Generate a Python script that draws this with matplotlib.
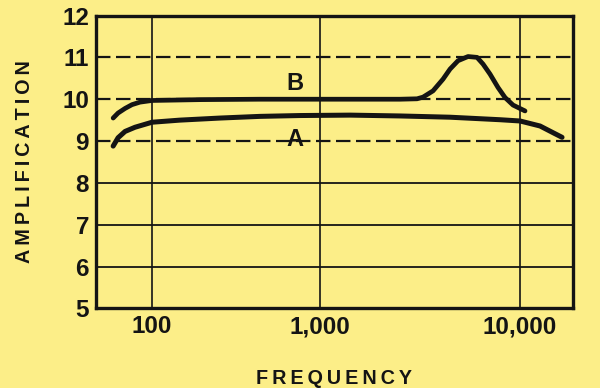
import matplotlib
matplotlib.use('Agg')
import matplotlib.pyplot as plt
import numpy as np
from matplotlib.ticker import FixedLocator, NullLocator

plt.rcParams['font.family'] = ['Liberation Sans', 'DejaVu Sans']

# curve A
freq_a = [58.7, 62.8, 69.1, 79.2, 100, 146, 254, 439, 760, 1413, 2512, 4467, 7943, 10000, 12590, 14620, 16220]
amp_a = [8.88, 9.08, 9.23, 9.33, 9.45, 9.5, 9.55, 9.59, 9.61, 9.62, 9.6, 9.57, 9.51, 9.48, 9.36, 9.2, 9.09]
# curve B
freq_b = [58.7, 62.8, 69.1, 76.0, 84.8, 100, 193, 439, 1413, 2512, 3055, 3273, 3673, 4121, 4467, 4898,
          5495, 6095, 6531, 7079, 7762, 8414, 9226, 10590]
amp_b = [9.55, 9.67, 9.78, 9.87, 9.93, 9.97, 9.99, 10.0, 10.0, 10.0, 10.01, 10.05, 10.2, 10.48, 10.72, 10.92,
         11.02, 11.0, 10.84, 10.6, 10.28, 10.04, 9.86, 9.72]

y_ticks = [5, 6, 7, 8, 9, 10, 11, 12]
x_ticks = [100, 1000, 10000]
x_labels = ['100', '1,000', '10,000']
solid_rows = [6, 7, 8]
dashed_rows = [9, 10, 11]

bg = '#fcee88'
ink = '#141414'


# hand drawn paper: the two decades are not the same width
def fwd(f):
    u = np.log10(np.clip(f, 1e-3, None))
    return np.where(u <= 3, (u - 2) * 168, 168 + (u - 3) * 200)


def inv(p):
    p = np.asarray(p, dtype=float)
    u = np.where(p <= 168, 2 + p / 168, 3 + (p - 168) / 200)
    return 10 ** u


fig = plt.figure(figsize=(6, 3.88), dpi=100, facecolor=bg)
ax = fig.add_axes([0.16, 0.205, 0.795, 0.755], facecolor=bg)

ax.set_xscale('function', functions=(fwd, inv))
ax.set_xlim(46.4, 18400)
ax.set_ylim(5, 12)

for y in solid_rows:
    ax.axhline(y, color=ink, lw=1.3, zorder=1)
for y in dashed_rows:
    ax.axhline(y, color=ink, lw=1.6, dashes=(6.5, 2.5), zorder=1)
for x in x_ticks:
    ax.axvline(x, color=ink, lw=1.2, zorder=1)

ax.plot(freq_a, amp_a, color=ink, lw=3.6, solid_capstyle='round', solid_joinstyle='round', zorder=3)
ax.plot(freq_b, amp_b, color=ink, lw=3.4, solid_capstyle='round', solid_joinstyle='round', zorder=3)

ax.text(710, 10.38, 'B', fontsize=17, fontweight='bold', color=ink, ha='center', va='center')
ax.text(710, 9.04, 'A', fontsize=17, fontweight='bold', color=ink, ha='center', va='center')

ax.xaxis.set_major_locator(FixedLocator(x_ticks))
ax.xaxis.set_minor_locator(NullLocator())
ax.set_xticklabels(x_labels)
ax.set_yticks(y_ticks)
ax.tick_params(length=0, labelsize=17.5, colors=ink, pad=5)
for lab in ax.get_xticklabels() + ax.get_yticklabels():
    lab.set_fontweight('bold')

for s in ax.spines.values():
    s.set_linewidth(2.4)
    s.set_color(ink)

ax.set_xlabel('\u2009'.join('FREQUENCY'), fontsize=14.2, fontweight='bold', color=ink)
ax.xaxis.set_label_coords(0.5, -0.205)
ax.set_ylabel('\u2009'.join('AMPLIFICATION'), fontsize=14.2, fontweight='bold', color=ink)
ax.yaxis.set_label_coords(-0.13, 0.5)

fig.savefig('out.png', dpi=100, facecolor=bg)
